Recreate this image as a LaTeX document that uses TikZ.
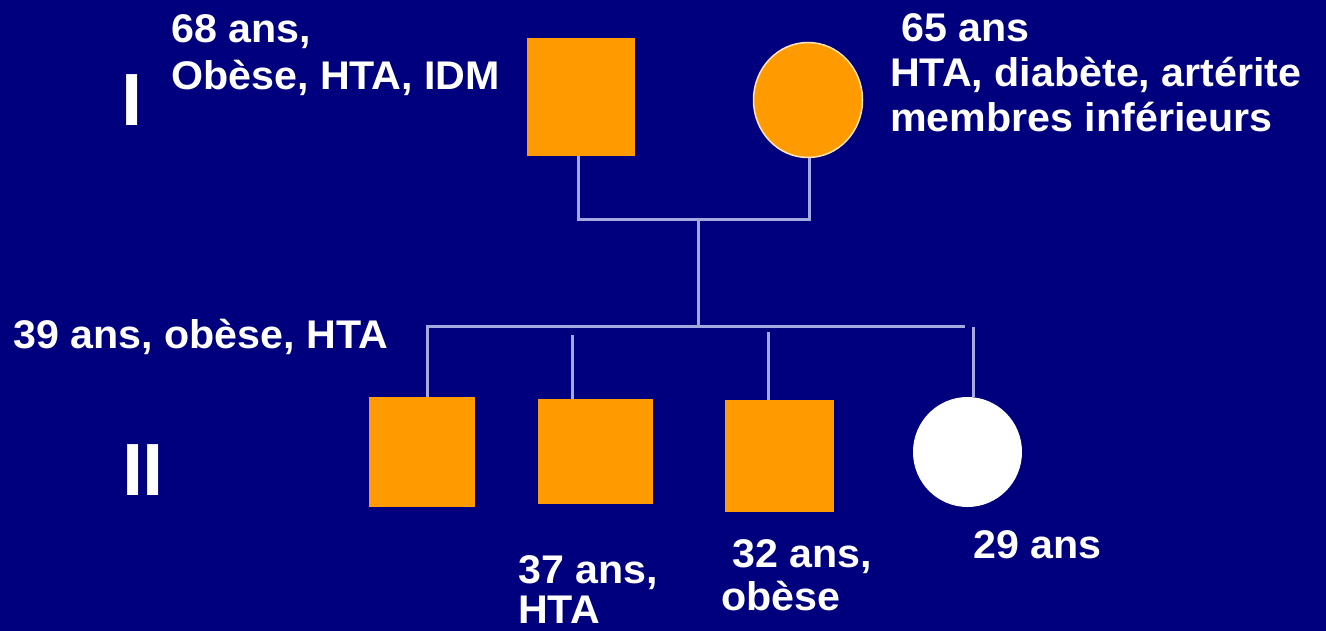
\documentclass[tikz,border=0pt]{standalone}
\usepackage{fontspec}
\setmainfont{Liberation Sans}[FakeStretch=1.03]
\usepackage{tikz}
\usetikzlibrary{shapes.geometric}
\definecolor{PedNavy}{HTML}{00007E}
\definecolor{PedOrange}{HTML}{FF9A00}
\definecolor{PedLine}{HTML}{A3A8E0}
\definecolor{PedRim}{HTML}{FFE6B8}
\tikzset{
  male/.style={rectangle,fill=PedOrange,inner sep=0pt},
  female/.style={ellipse,fill=PedOrange,draw=PedRim,line width=1.5pt,inner sep=0pt},
  femalefree/.style={ellipse,fill=white,inner sep=0pt},
  link/.style={PedLine,line width=3pt},
  lbl/.style={anchor=base west,inner sep=0pt,align=left,text=white,
    font=\bfseries\fontsize{40}{#1}\selectfont},
  lbl/.default=45,
  gen/.style={anchor=base west,inner sep=0pt,text=white,
    font=\bfseries\fontsize{74}{74}\selectfont}
}

\begin{document}
\begin{tikzpicture}[x=1pt,y=-1pt]
\path[use as bounding box] (0,0) rectangle (1326,631);
\fill[PedNavy] (0,0) rectangle (1326,631);
% generation I
\node[gen] (genI) at (121,126) {I};
\node[male,minimum width=108pt,minimum height=118pt] (f1) at (581,97) {};
\node[female,minimum width=109pt,minimum height=115pt] (m1) at (808,100) {};
\node[lbl=47] (t1) at (171,90) {68 ans,\\Obèse, HTA, IDM};
\node[lbl=45] (t2) at (890,132) {\ 65 ans\\HTA, diabète, artérite\\membres inférieurs};
% generation II
\node[gen] (genII) at (122,495) {I\kern-1pt I};
\node[male,minimum width=106pt,minimum height=110pt] (c1) at (422,452) {};
\node[male,minimum width=115pt,minimum height=105pt] (c2) at (595.5,451.5) {};
\node[male,minimum width=109pt,minimum height=112pt] (c3) at (779.5,456) {};
\node[femalefree,minimum width=109pt,minimum height=110pt] (c4) at (967.5,452) {};
\node[lbl] (t3) at (13,348) {39 ans, obèse, HTA};
\node[lbl=40] (t4) at (518,623) {37 ans,\\HTA};
\node[lbl=43] (t5) at (721,610) {\ 32 ans,\\obèse};
\node[lbl] (t6) at (973,558) {29 ans};
% lines
\coordinate (coupleL) at (578,220);
\coordinate (coupleR) at (809,220);
\coordinate (desc) at (698,220);
\coordinate (sibL) at (427,326);
\coordinate (sibM) at (698,326);
\coordinate (sibR) at (965,326);
\coordinate (s2) at (572,335);
\coordinate (s3) at (768,332);
\coordinate (s4) at (973,327);
\draw[link] (f1.south -| coupleL) -- (coupleL) -- (coupleR) -- (m1.south -| coupleR);
\draw[link] (desc) -- (sibM);
\draw[link] (c1.north -| sibL) -- (sibL) -- (sibR);
\draw[link] (s2) -- (c2.north -| s2);
\draw[link] (s3) -- (c3.north -| s3);
\draw[link] (s4) -- (c4.north -| s4);
\end{tikzpicture}
\end{document}
